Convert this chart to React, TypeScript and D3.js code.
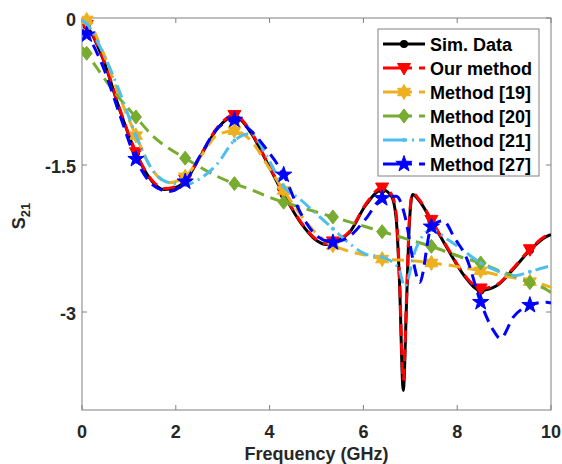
import React from 'react';
import * as d3 from 'd3';

// ---------- data ----------
const markerFreqs = [0.1, 1.15, 2.2, 3.25, 4.3, 5.35, 6.4, 7.45, 8.5, 9.55];
const xTicks = [0, 2, 4, 6, 8, 10];
const yTicks = [0, -1.5, -3];
const yTickLabels = ['0', '-1.5', '-3'];
const seriesNames = ['Sim. Data', 'Our method', 'Method [19]', 'Method [20]', 'Method [21]', 'Method [27]'];

const simFreq = [0, 0.1, 0.45, 0.8, 1.15, 1.5, 1.75, 2.0, 2.2, 2.55, 2.9, 3.25, 3.6, 3.95, 4.3, 4.65, 5.0, 5.2, 5.35, 5.7, 6.05, 6.4, 6.6, 6.7, 6.77, 6.85, 6.92, 6.98, 7.05, 7.2, 7.45, 7.8, 8.15, 8.5, 8.85, 9.2, 9.55, 9.9, 10];
const simData = [-0.03, -0.08, -0.42, -0.93, -1.38, -1.67, -1.75, -1.73, -1.66, -1.39, -1.12, -1.0, -1.17, -1.48, -1.8, -2.08, -2.27, -2.31, -2.29, -2.19, -1.91, -1.75, -1.82, -2.05, -2.7, -3.8, -2.9, -2.1, -1.8, -1.87, -2.07, -2.36, -2.63, -2.78, -2.73, -2.56, -2.37, -2.23, -2.21];
const oursData = [-0.02, -0.07, -0.41, -0.92, -1.37, -1.66, -1.74, -1.72, -1.65, -1.38, -1.11, -0.99, -1.16, -1.47, -1.79, -2.07, -2.26, -2.3, -2.28, -2.18, -1.9, -1.73, -1.8, -2.0, -2.65, -3.7, -2.85, -2.05, -1.79, -1.86, -2.06, -2.35, -2.62, -2.76, -2.72, -2.55, -2.36, -2.22, -2.2];

const methodFreq = [0, 0.1, 0.45, 0.8, 1.15, 1.5, 1.85, 2.2, 2.55, 2.9, 3.25, 3.6, 3.95, 4.3, 4.65, 5.0, 5.35, 5.7, 6.05, 6.4, 6.75, 7.1, 7.45, 7.8, 8.15, 8.5, 8.85, 9.2, 9.55, 9.9, 10];
const m19Data = [0.0, -0.02, -0.35, -0.8, -1.2, -1.55, -1.68, -1.62, -1.4, -1.19, -1.15, -1.25, -1.5, -1.76, -2.0, -2.2, -2.32, -2.38, -2.42, -2.46, -2.47, -2.48, -2.5, -2.52, -2.55, -2.58, -2.62, -2.65, -2.69, -2.73, -2.75];
const m20Data = [-0.3, -0.36, -0.6, -0.82, -1.01, -1.2, -1.33, -1.43, -1.53, -1.62, -1.69, -1.75, -1.82, -1.88, -1.93, -1.98, -2.03, -2.08, -2.13, -2.18, -2.23, -2.28, -2.33, -2.39, -2.45, -2.5, -2.57, -2.63, -2.7, -2.77, -2.8];

const m21Freq = [0, 0.1, 0.45, 0.8, 1.15, 1.5, 1.85, 2.2, 2.55, 2.9, 3.25, 3.6, 3.95, 4.3, 4.65, 5.0, 5.35, 5.7, 6.05, 6.4, 6.75, 6.88, 7.1, 7.45, 7.8, 8.15, 8.5, 8.85, 9.2, 9.55, 9.9, 10];
const m21Data = [-0.02, -0.06, -0.36, -0.75, -1.2, -1.55, -1.68, -1.7, -1.63, -1.48, -1.25, -1.18, -1.42, -1.72, -1.85, -2.0, -2.15, -2.3, -2.41, -2.44, -2.55, -2.74, -2.38, -2.16, -2.26, -2.38, -2.5, -2.58, -2.63, -2.59, -2.54, -2.53];

const m27Freq = [0, 0.1, 0.45, 0.8, 1.15, 1.5, 1.85, 2.2, 2.55, 2.9, 3.25, 3.6, 3.95, 4.3, 4.65, 5.0, 5.35, 5.7, 6.05, 6.4, 6.7, 6.9, 7.05, 7.2, 7.45, 7.7, 7.95, 8.2, 8.5, 8.75, 8.92, 9.2, 9.55, 9.9, 10];
const m27Data = [-0.12, -0.17, -0.5, -0.98, -1.44, -1.7, -1.77, -1.67, -1.38, -1.12, -1.04, -1.15, -1.35, -1.6, -1.98, -2.22, -2.29, -2.23, -2.05, -1.84, -1.82, -2.05, -2.45, -2.7, -2.13, -2.07, -2.25, -2.45, -2.9, -3.17, -3.27, -3.05, -2.93, -2.9, -2.91];

// ---------- layout ----------
const W = 562, H = 464;
const L = 82, R = 551, T = 18, B = 410;
const FONT = "'Liberation Sans', Arial, sans-serif";
const AXIS = '#808080';
const TXT = '#262626';

type MarkerKind = 'circle' | 'tri' | 'hex' | 'diamond' | 'dot' | 'pent';

function starPath(n: number, ro: number, ri: number) {
  const pts: [number, number][] = [];
  for (let i = 0; i < 2 * n; i++) {
    const a = -Math.PI / 2 + (i * Math.PI) / n;
    const r = i % 2 === 0 ? ro : ri;
    pts.push([r * Math.cos(a), r * Math.sin(a)]);
  }
  return 'M' + pts.map((p) => p.join(',')).join('L') + 'Z';
}

function Marker({ kind, x, y, color }: { kind: MarkerKind; x: number; y: number; color: string }) {
  const t = `translate(${x},${y})`;
  switch (kind) {
    case 'circle':
      return <circle cx={x} cy={y} r={4} fill={color} />;
    case 'tri':
      return <path transform={t} d="M-6.5,-4.5L6.5,-4.5L0,7Z" fill={color} stroke={color} strokeWidth={1} />;
    case 'hex':
      return <path transform={t} d={starPath(6, 7.5, 4.3)} fill={color} stroke={color} strokeWidth={1} />;
    case 'diamond':
      return <path transform={t} d="M0,-7L5.5,0L0,7L-5.5,0Z" fill={color} stroke={color} strokeWidth={1} />;
    case 'dot':
      return <circle cx={x} cy={y} r={2} fill={color} />;
    case 'pent':
      return <path transform={t} d={starPath(5, 8.5, 3.4)} fill={color} stroke={color} strokeWidth={1} />;
  }
  return null;
}

const series = [
  { name: seriesNames[0], freq: simFreq, vals: simData, color: '#000000', dash: '', legDash: '', marker: 'circle' as MarkerKind },
  { name: seriesNames[1], freq: simFreq, vals: oursData, color: '#FF0000', dash: '12,7', legDash: '29,7,6', marker: 'tri' as MarkerKind },
  { name: seriesNames[2], freq: methodFreq, vals: m19Data, color: '#EDB120', dash: '12,7', legDash: '29,7,6', marker: 'hex' as MarkerKind },
  { name: seriesNames[3], freq: methodFreq, vals: m20Data, color: '#77AC30', dash: '12,7', legDash: '29,7,6', marker: 'diamond' as MarkerKind },
  { name: seriesNames[4], freq: m21Freq, vals: m21Data, color: '#4DBEEE', dash: '13,5,2,5', legDash: '24,5,2,5,6', marker: 'dot' as MarkerKind },
  { name: seriesNames[5], freq: m27Freq, vals: m27Data, color: '#0000FF', dash: '12,7', legDash: '29,7,6', marker: 'pent' as MarkerKind },
];

export default function App() {
  const x = d3.scaleLinear().domain([0, 10]).range([L, R]);
  const y = d3.scaleLinear().domain([-4, 0]).range([B, T]);
  const line = d3
    .line<[number, number]>()
    .x((d) => x(d[0]))
    .y((d) => y(d[1]))
    .curve(d3.curveMonotoneX);

  const legX = 378, legY = 29, legW = 161, legH = 147;
  const rowY = (i: number) => 44 + i * 24;

  return (
    <svg width={W} height={H} style={{ position: 'absolute', left: 0, top: 0, background: '#fff' }} fontFamily={FONT}>
      <rect x={0} y={0} width={W} height={H} fill="#fff" />
      <defs>
        <clipPath id="plotclip">
          <rect x={L} y={T - 10} width={R - L} height={B - T + 10} />
        </clipPath>
      </defs>
      {/* axes box */}
      <rect x={L} y={T} width={R - L} height={B - T} fill="none" stroke={AXIS} strokeWidth={1} />
      {xTicks.map((t) => (
        <g key={'xt' + t}>
          <line x1={x(t)} x2={x(t)} y1={B} y2={B - 5} stroke={AXIS} />
          <line x1={x(t)} x2={x(t)} y1={T} y2={T + 5} stroke={AXIS} />
          <text x={x(t)} y={438} textAnchor="middle" fontSize={18} fontWeight="bold" fill={TXT}>
            {t}
          </text>
        </g>
      ))}
      {yTicks.map((t, i) => (
        <g key={'yt' + t}>
          <line x1={L} x2={L + 5} y1={y(t)} y2={y(t)} stroke={AXIS} />
          <line x1={R} x2={R - 5} y1={y(t)} y2={y(t)} stroke={AXIS} />
          <text x={76} y={y(t) + 7.5} textAnchor="end" fontSize={18} fontWeight="bold" fill={TXT}>
            {yTickLabels[i]}
          </text>
        </g>
      ))}
      <text x={(L + R) / 2} y={460} textAnchor="middle" fontSize={18} fontWeight="bold" fill={TXT}>
        Frequency (GHz)
      </text>
      <text transform={`translate(25,${(T + B) / 2 + 2}) rotate(-90)`} textAnchor="middle" fontSize={18} fontWeight="bold" fill={TXT}>
        <tspan>S</tspan>
        <tspan fontSize={13} dy={5}>21</tspan>
      </text>

      {/* series */}
      <g clipPath="url(#plotclip)">
        {series.map((s) => {
          const pts: [number, number][] = s.freq.map((f, i) => [f, s.vals[i]]);
          const mk = pts.filter((p) => markerFreqs.some((m) => Math.abs(m - p[0]) < 1e-6));
          return (
            <g key={s.name}>
              <path d={line(pts) || ''} fill="none" stroke={s.color} strokeWidth={3} strokeDasharray={s.dash || undefined} strokeLinejoin="round" />
              {mk.map((p, j) => (
                <Marker key={j} kind={s.marker} x={x(p[0])} y={y(p[1])} color={s.color} />
              ))}
            </g>
          );
        })}
      </g>

      {/* legend */}
      <rect x={legX} y={legY} width={legW} height={legH} fill="#fff" stroke={AXIS} strokeWidth={1} />
      {series.map((s, i) => (
        <g key={'lg' + i}>
          <line x1={383} x2={425} y1={rowY(i)} y2={rowY(i)} stroke={s.color} strokeWidth={3} strokeDasharray={s.legDash || undefined} />
          <Marker kind={s.marker} x={404} y={rowY(i)} color={s.color} />
          <text x={430} y={rowY(i) + 6.5} fontSize={18} fontWeight="bold" fill="#000">
            {s.name}
          </text>
        </g>
      ))}
    </svg>
  );
}
